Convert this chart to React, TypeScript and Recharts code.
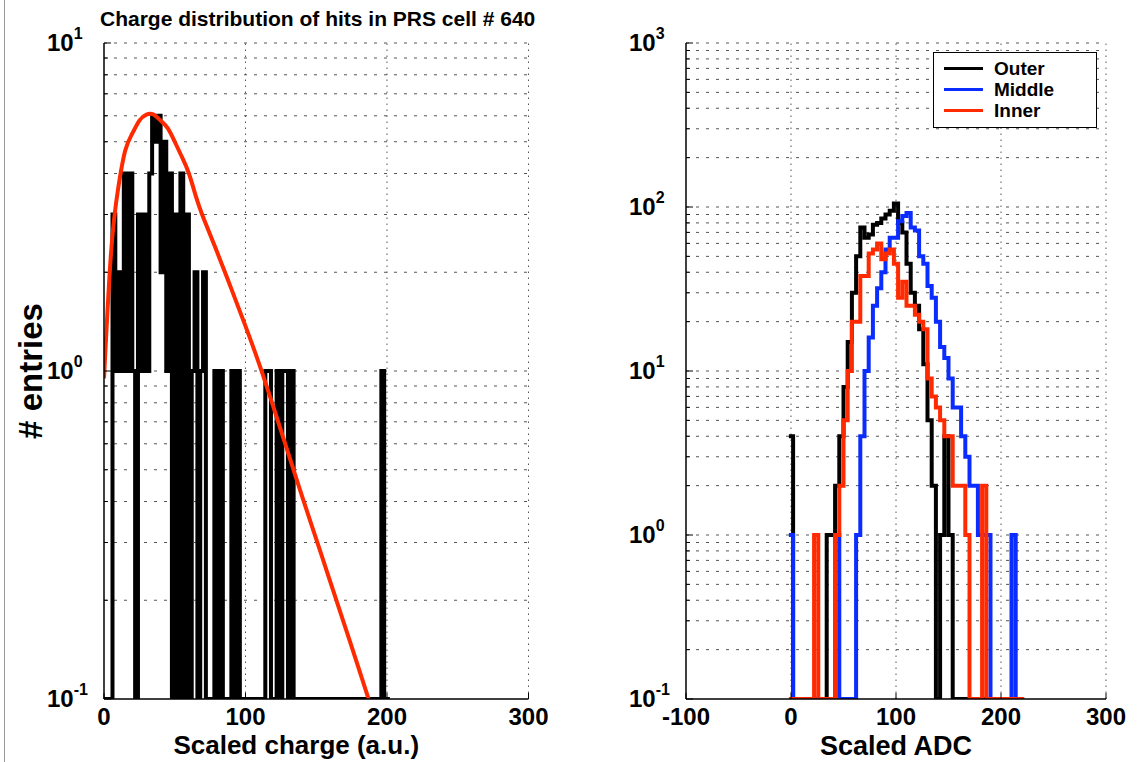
import React from "react";
import { LineChart, Line, XAxis, YAxis, ReferenceLine, Legend } from "recharts";

const FONT = '"Liberation Sans", Arial, Helvetica, sans-serif';
const FLOOR = 0.1; // empty bins sit on the bottom of the log axis

// left panel: charge histogram, 2 a.u. bins starting at 0
const chargeBinWidth = 2;
const chargeCounts = [
  0, 0, 0, 3, 1, 2, 1, 4, 1, 4,
  1, 0, 3, 1, 3, 1, 4, 6, 5, 6,
  2, 5, 1, 4, 0, 3, 0, 4, 0, 3,
  0, 1, 2, 0, 1, 2, 0, 0, 0, 1,
  0, 1, 0, 0, 0, 1, 0, 1, 0, 0,
  0, 0, 0, 0, 0, 0, 0, 1, 1, 0,
  0, 1, 0, 1, 1, 0, 1, 0, 0, 0,
  0, 0, 0, 0, 0, 0, 0, 0, 0, 0,
  0, 0, 0, 0, 0, 0, 0, 0, 0, 0,
  0, 0, 0, 0, 0, 0, 0, 0, 1, 0,
  0,
];

// fit curve over the charge histogram
const fitCharge = [0, 5, 10, 15, 20, 25, 30, 35, 40, 45, 50, 55, 60, 65, 70, 80, 90, 100, 110, 120, 130, 140, 150, 160, 170, 180, 187];
const fitValues = [0.95, 2.3, 3.6, 4.7, 5.3, 5.8, 6.05, 6.05, 5.8, 5.5, 5.0, 4.5, 4.0, 3.4, 2.95, 2.3, 1.78, 1.37, 1.04, 0.77, 0.565, 0.415, 0.307, 0.227, 0.168, 0.124, 0.1];

// right panel: ADC histograms, 4-count bins starting at -2
const adcStart = -2;
const adcBinWidth = 4;
const outerCounts = [
  4, 0, 0, 0, 0, 0, 0, 0, 0, 1,
  1, 2, 4, 8, 15, 30, 50, 75, 65, 68,
  78, 80, 85, 90, 95, 105, 80, 70, 45, 30,
  25, 18, 11, 5, 2, 0, 1, 4, 1, 0,
  0, 0, 0, 0, 0, 0, 0, 0, 0, 0,
  0, 0, 0, 0, 0, 0,
];
const middleCounts = [
  1, 0, 0, 0, 0, 0, 0, 0, 0, 0,
  0, 1, 0, 0, 0, 0, 1, 4, 10, 16,
  25, 32, 40, 55, 65, 65, 82, 88, 92, 75,
  72, 50, 45, 33, 28, 20, 14, 12, 9, 6,
  6, 4, 3, 2, 2, 1, 1, 1, 0, 0,
  0, 0, 0, 1, 0, 0,
];
const innerCounts = [
  0, 0, 0, 0, 0, 0, 1, 0, 0, 0,
  0, 1, 2, 5, 10, 20, 20, 38, 38, 52,
  55, 60, 48, 52, 55, 45, 28, 35, 25, 25,
  22, 20, 18, 9, 7, 6, 5, 4, 4, 2,
  2, 2, 1, 0, 0, 0, 2, 0, 0, 0,
  0, 0, 0, 0, 0, 0,
];

const seriesNames = ["Outer", "Middle", "Inner"];
const seriesColors = ["#000000", "#0a2cff", "#ff2a00"];

const leftXTicks = [0, 100, 200, 300];
const rightXTicks = [-100, 0, 100, 200, 300];
const leftDecades = [0.1, 1, 10];
const rightDecades = [0.1, 1, 10, 100, 1000];

const minorTicks = (decades: number[]) => {
  const out: number[] = [];
  decades.slice(0, -1).forEach((d) => {
    for (let m = 1; m < 10; m++) out.push(+(d * m).toPrecision(6));
  });
  out.push(decades[decades.length - 1]);
  return out;
};

const histTable = (start: number, width: number, counts: number[]) => {
  const rows = counts.map((c, i) => ({ x: start + i * width, y: c > 0 ? c : FLOOR }));
  rows.push({ x: start + counts.length * width, y: FLOOR });
  return rows;
};

const chargeTable = histTable(0, chargeBinWidth, chargeCounts);
const fitTable = fitCharge.map((x, i) => ({ x, y: fitValues[i] }));
const adcTables = [outerCounts, middleCounts, innerCounts].map((c) => histTable(adcStart, adcBinWidth, c));

const makeYTick = (decades: number[]) => (props: any) => {
  const { x, y, payload } = props;
  const v = payload.value;
  const isDecade = decades.some((d) => Math.abs(d - v) / d < 1e-6);
  const exp = Math.round(Math.log10(v));
  return (
    <g>
      <line x1={x} x2={x + (isDecade ? 7 : 4)} y1={y} y2={y} stroke="#000" strokeWidth={1} />
      {isDecade && (
        <text x={x - 57} y={y + 8} fontFamily={FONT} fontSize={24} fontWeight="bold" fill="#000">
          10
          <tspan dy={-12} fontSize={16}>
            {exp}
          </tspan>
        </text>
      )}
    </g>
  );
};

const XTick = (props: any) => {
  const { x, y, payload } = props;
  return (
    <g>
      <line x1={x} x2={x} y1={y} y2={y - 6} stroke="#000" strokeWidth={1} />
      <text x={x} y={y + 26} textAnchor="middle" fontFamily={FONT} fontSize={24} fontWeight="bold" fill="#000">
        {payload.value}
      </text>
    </g>
  );
};

const gridLines = (yVals: number[], xVals: number[]) => [
  ...yVals.map((v) => (
    <ReferenceLine key={"h" + v} y={v} stroke="#555" strokeWidth={1} strokeDasharray="3 7" />
  )),
  ...xVals.map((v) => (
    <ReferenceLine key={"v" + v} x={v} stroke="#555" strokeWidth={1} strokeDasharray="1.5 4.5" />
  )),
];

const AdcLegend = (props: any) => {
  const items = [...(props.payload || [])].sort(
    (a: any, b: any) => seriesNames.indexOf(a.value) - seriesNames.indexOf(b.value)
  );
  return (
    <div
      style={{
        width: 164,
        height: 76,
        boxSizing: "border-box",
        border: "1px solid #000",
        background: "#fff",
        padding: "5px 0 0 10px",
        fontFamily: FONT,
      }}
    >
      {items.map((p: any) => (
        <div key={p.value} style={{ display: "flex", alignItems: "center", height: 21 }}>
          <span style={{ display: "inline-block", width: 39, height: 3, background: p.color, marginRight: 11 }} />
          <span style={{ fontSize: 19, fontWeight: "bold", color: "#000" }}>{p.value}</span>
        </div>
      ))}
    </div>
  );
};

const axisLabelStyle = { fontFamily: FONT, fontSize: 26, fontWeight: "bold", fill: "#000" };

export default function App() {
  const leftMinor = minorTicks(leftDecades);
  const rightMinor = minorTicks(rightDecades);
  return (
    <div style={{ position: "absolute", left: 0, top: 0, width: 1137, height: 762, background: "#fff", overflow: "hidden" }}>
      <div style={{ position: "absolute", left: 4, top: 0, width: 1, height: 762, background: "#999" }} />
      <div
        style={{
          position: "absolute",
          left: 100,
          top: 8,
          width: 432,
          textAlign: "center",
          fontFamily: FONT,
          fontSize: 21,
          lineHeight: "21px",
          fontWeight: "bold",
          whiteSpace: "nowrap",
        }}
      >
        Charge distribution of hits in PRS cell # 640
      </div>

      <div style={{ position: "absolute", left: 0, top: 0 }}>
        <LineChart width={560} height={762} margin={{ top: 43, right: 31.5, bottom: 13, left: 44 }}>
          {gridLines(leftMinor.slice(1), leftXTicks.slice(1))}
          <XAxis
            dataKey="x"
            type="number"
            domain={[0, 300]}
            ticks={leftXTicks}
            interval={0}
            allowDataOverflow
            height={50}
            tickSize={0}
            tickMargin={0}
            tickLine={false}
            tick={<XTick />}
            axisLine={{ stroke: "#000", strokeWidth: 1.5 }}
            label={{ value: "Scaled charge (a.u.)", position: "insideBottom", offset: -5, dx: -20, style: axisLabelStyle }}
          />
          <YAxis
            type="number"
            scale="log"
            domain={[0.1, 10]}
            ticks={leftMinor}
            interval={0}
            allowDataOverflow
            width={60}
            tickSize={0}
            tickMargin={0}
            tickLine={false}
            tick={makeYTick(leftDecades)}
            axisLine={{ stroke: "#000", strokeWidth: 1.5 }}
            label={{
              value: "# entries",
              angle: -90,
              position: "insideLeft",
              offset: -14,
              style: { ...axisLabelStyle, fontSize: 33, textAnchor: "middle" },
            }}
          />
          <Line
            data={chargeTable}
            dataKey="y"
            type="stepAfter"
            stroke="#000"
            strokeWidth={4}
            dot={false}
            activeDot={false}
            isAnimationActive={false}
          />
          <Line
            data={fitTable}
            dataKey="y"
            type="natural"
            stroke="#ff2a00"
            strokeWidth={4}
            dot={false}
            activeDot={false}
            isAnimationActive={false}
          />
        </LineChart>
      </div>

      <div style={{ position: "absolute", left: 560, top: 0 }}>
        <LineChart width={577} height={762} margin={{ top: 43, right: 31, bottom: 13, left: 66 }}>
          {gridLines(rightMinor.slice(1), rightXTicks.slice(1))}
          <XAxis
            dataKey="x"
            type="number"
            domain={[-100, 300]}
            ticks={rightXTicks}
            interval={0}
            allowDataOverflow
            height={50}
            tickSize={0}
            tickMargin={0}
            tickLine={false}
            tick={<XTick />}
            axisLine={{ stroke: "#000", strokeWidth: 1.5 }}
            label={{ value: "Scaled ADC", position: "insideBottom", offset: -6, style: { ...axisLabelStyle, fontSize: 27 } }}
          />
          <YAxis
            type="number"
            scale="log"
            domain={[0.1, 1000]}
            ticks={rightMinor}
            interval={0}
            allowDataOverflow
            width={60}
            tickSize={0}
            tickMargin={0}
            tickLine={false}
            tick={makeYTick(rightDecades)}
            axisLine={{ stroke: "#000", strokeWidth: 1.5 }}
          />
          <Legend
            layout="vertical"
            align="center"
            verticalAlign="middle"
            wrapperStyle={{ left: 373, top: 52, width: 164, height: 76 }}
            content={<AdcLegend />}
          />
          {adcTables.map((t, i) => (
            <Line
              key={seriesNames[i]}
              name={seriesNames[i]}
              data={t}
              dataKey="y"
              type="stepAfter"
              stroke={seriesColors[i]}
              strokeWidth={4}
              dot={false}
              activeDot={false}
              isAnimationActive={false}
            />
          ))}
        </LineChart>
      </div>
    </div>
  );
}
